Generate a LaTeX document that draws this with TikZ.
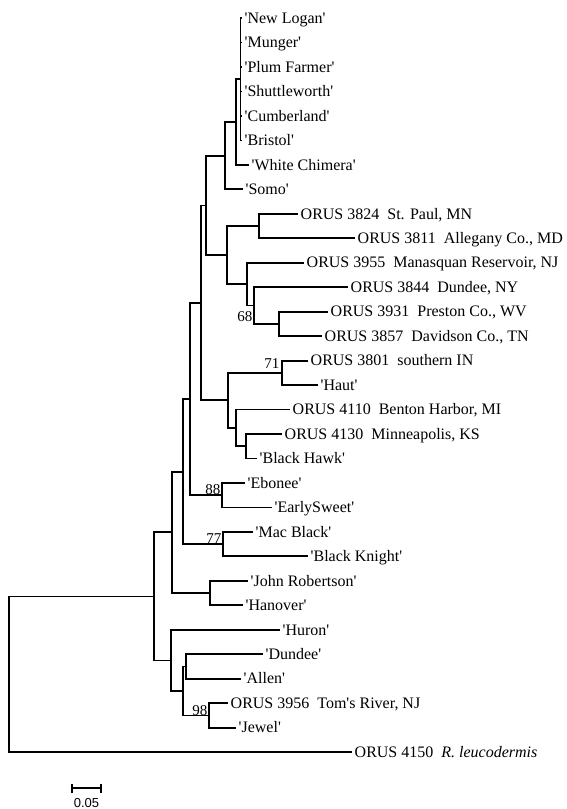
\documentclass[tikz,border=0pt]{standalone}
\usepackage{fontspec}
\setmainfont{Liberation Serif}
\setsansfont{Liberation Sans}
\usetikzlibrary{arrows.meta}
\newcommand\cv[1]{\textquotesingle#1\textquotesingle}
\newcommand\orus[2]{ORUS #1\hspace{.5em}#2}
\tikzstyle{br}=[line width=1.8pt]
\tikzstyle{leaf}=[anchor=west,inner xsep=2.5pt,inner ysep=0pt,text height=10.5pt,text depth=0pt,font=\fontsize{16}{16}\selectfont]
\tikzstyle{boot}=[anchor=base east,inner sep=.5pt,font=\fontsize{15}{15}\selectfont]
\tikzstyle{scalebar}=[line width=1.8pt,{Bar[width=9pt]}-{Bar[width=9pt]}]

\begin{document}
\begin{tikzpicture}[x=1pt,y=-1pt]
  \useasboundingbox (0,0) rectangle (566,809);
  % inner nodes of the tree
  \coordinate (r)   at (9,674.2);
  \coordinate (a)   at (154,596.4);
  \coordinate (b)   at (172,532.3);
  \coordinate (p)   at (171,660.4);
  \coordinate (n)   at (183,471.6);
  \coordinate (jr)  at (210,593.0);
  \coordinate (m)   at (190,399.0);
  \coordinate (n77) at (223,544.1);
  \coordinate (d)   at (201,302.9);
  \coordinate (n88) at (222,495.2);
  \coordinate (c)   at (206,205.4);
  \coordinate (j)   at (228,400.3);
  \coordinate (s)   at (225,155.7);
  \coordinate (e)   at (227,255.1);
  \coordinate (w)   at (236,122.0);
  \coordinate (pt)  at (240.5,79.2);
  \coordinate (f)   at (259,226.0);
  \coordinate (g)   at (247,284.1);
  \coordinate (h)   at (254,305.5);
  \coordinate (i)   at (279,323.9);
  \coordinate (n71) at (282,372.8);
  \coordinate (k)   at (236,427.9);
  \coordinate (l)   at (246,446.2);
  \coordinate (q)   at (183,691.0);
  \coordinate (t)   at (186,666.5);
  \coordinate (n98) at (209,715.4);

  % leaves
  \node[leaf] (nlogan)  at (242,18.0)  {\cv{New Logan}};
  \node[leaf] (munger)  at (242,42.5)  {\cv{Munger}};
  \node[leaf] (plum)    at (242,66.9)  {\cv{Plum Farmer}};
  \node[leaf] (shuttle) at (242,91.4)  {\cv{Shuttleworth}};
  \node[leaf] (cumber)  at (242,115.9) {\cv{Cumberland}};
  \node[leaf] (bristol) at (242,140.4) {\cv{Bristol}};
  \node[leaf] (white)   at (249,164.8) {\cv{White Chimera}};
  \node[leaf] (somo)    at (243,189.3) {\cv{Somo}};
  \node[leaf] (o3824)   at (298,213.8) {\orus{3824}{St. Paul, MN}};
  \node[leaf] (o3811)   at (355,238.2) {\orus{3811}{Allegany Co., MD}};
  \node[leaf] (o3955)   at (304,262.7) {\orus{3955}{Manasquan Reservoir, NJ}};
  \node[leaf] (o3844)   at (348,287.2) {\orus{3844}{Dundee, NY}};
  \node[leaf] (o3931)   at (328,311.6) {\orus{3931}{Preston Co., WV}};
  \node[leaf] (o3857)   at (322,336.1) {\orus{3857}{Davidson Co., TN}};
  \node[leaf] (o3801)   at (308,360.6) {\orus{3801}{southern IN}};
  \node[leaf] (haut)    at (318,385.1) {\cv{Haut}};
  \node[leaf] (o4110)   at (290,409.5) {\orus{4110}{Benton Harbor, MI}};
  \node[leaf] (o4130)   at (282,434.0) {\orus{4130}{Minneapolis, KS}};
  \node[leaf] (bhawk)   at (257,458.5) {\cv{Black Hawk}};
  \node[leaf] (ebonee)  at (245,482.9) {\cv{Ebonee}};
  \node[leaf] (esweet)  at (272,507.4) {\cv{EarlySweet}};
  \node[leaf] (macb)    at (253,531.9) {\cv{Mac Black}};
  \node[leaf] (bknight) at (308,556.3) {\cv{Black Knight}};
  \node[leaf] (john)    at (248,580.8) {\cv{John Robertson}};
  \node[leaf] (hanover) at (243,605.3) {\cv{Hanover}};
  \node[leaf] (huron)   at (280,629.8) {\cv{Huron}};
  \node[leaf] (dundee)  at (263,654.2) {\cv{Dundee}};
  \node[leaf] (allen)   at (241,678.7) {\cv{Allen}};
  \node[leaf] (o3956)   at (228,703.2) {\orus{3956}{Tom\textquotesingle s River, NJ}};
  \node[leaf] (jewel)   at (236,727.6) {\cv{Jewel}};
  \node[leaf] (o4150)   at (352,752.1) {\orus{4150}{\textit{R. leucodermis}}};

  % branches
  \draw[br] (r) |- (a) (r) |- (o4150.west);
  \draw[br] (a) |- (b) (a) |- (p);
  \draw[br] (b) |- (n) (b) |- (jr);
  \draw[br] (jr) |- (john.west) (jr) |- (hanover.west);
  \draw[br] (n) |- (m) (n) |- (n77);
  \draw[br] (n77) |- (macb.west) (n77) |- (bknight.west);
  \draw[br] (m) |- (d) (m) |- (n88);
  \draw[br] (n88) |- (ebonee.west) (n88) |- (esweet.west);
  \draw[br] (d) |- (c) (d) |- (j);
  \draw[br] (c) |- (s) (c) |- (e);
  \draw[br] (s) |- (w) (s) |- (somo.west);
  \draw[br] (w) |- (pt) (w) |- (white.west);
  \foreach \x in {nlogan,munger,plum,shuttle,cumber,bristol}
    \draw[br] (pt) |- (\x.west);
  \draw[br] (e) |- (f) (e) |- (g);
  \draw[br] (f) |- (o3824.west) (f) |- (o3811.west);
  \draw[br] (g) |- (o3955.west) (g) |- (h);
  \draw[br] (h) |- (o3844.west) (h) |- (i);
  \draw[br] (i) |- (o3931.west) (i) |- (o3857.west);
  \draw[br] (j) |- (n71) (j) |- (k);
  \draw[br] (n71) |- (o3801.west) (n71) |- (haut.west);
  \draw[br] (k) |- (o4110.west) (k) |- (l);
  \draw[br] (l) |- (o4130.west) (l) |- (bhawk.west);
  \draw[br] (p) |- (huron.west) (p) |- (q);
  \draw[br] (q) |- (t) (q) |- (n98);
  \draw[br] (t) |- (dundee.west) (t) |- (allen.west);
  \draw[br] (n98) |- (o3956.west) (n98) |- (jewel.west);

  % bootstrap values
  \node[boot] (b68) at (253,321) {68};
  \node[boot] (b71) at (280,368) {71};
  \node[boot] (b88) at (221,494.5) {88};
  \node[boot] (b77) at (222,543.5) {77};
  \node[boot] (b98) at (208,715) {98};

  % scale
  \coordinate (sb1) at (71,788);
  \coordinate (sb2) at (102,788);
  \draw[scalebar] (sb1) -- (sb2);
  \node[font=\sffamily\fontsize{13}{13}\selectfont,inner sep=0pt] (sbl) at (86.5,803) {0.05};
\end{tikzpicture}
\end{document}
